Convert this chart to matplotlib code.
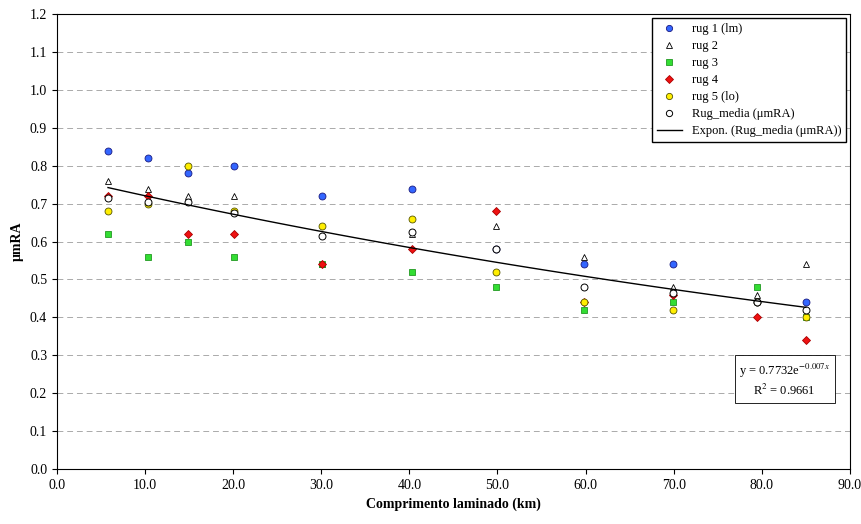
import numpy as np
import matplotlib
matplotlib.use('Agg')
import matplotlib.pyplot as plt

plt.rcParams['font.family'] = ['Liberation Serif', 'DejaVu Serif']
plt.rcParams['mathtext.fontset'] = 'stix'

km = [5.8, 10.3, 14.9, 20.1, 30.1, 40.3, 49.8, 59.8, 69.9, 79.4, 85.0]
rug1 = [0.84, 0.82, 0.78, 0.80, 0.72, 0.74, 0.58, 0.54, 0.54, 0.44, 0.44]
rug2 = [0.76, 0.74, 0.72, 0.72, 0.54, 0.62, 0.64, 0.56, 0.48, 0.46, 0.54]
rug3 = [0.62, 0.56, 0.60, 0.56, 0.54, 0.52, 0.48, 0.42, 0.44, 0.48, 0.40]
rug4 = [0.72, 0.72, 0.62, 0.62, 0.54, 0.58, 0.68, 0.44, 0.46, 0.40, 0.34]
rug5 = [0.68, 0.70, 0.80, 0.68, 0.64, 0.66, 0.52, 0.44, 0.42, 0.44, 0.40]
media = [0.715, 0.705, 0.705, 0.675, 0.615, 0.625, 0.58, 0.48, 0.465, 0.44, 0.42]
coef_a, coef_b = 0.7732, -0.007

fig, ax = plt.subplots(figsize=(8.62, 5.24), dpi=100)
fig.subplots_adjust(left=0.066, right=0.986, top=0.973, bottom=0.105)

ms = 5
ax.plot(km, rug1, 'o', mfc='#3366ff', mec='#1a1a80', mew=0.6, ms=ms, label='rug 1 (lm)')
ax.plot(km, rug2, '^', mfc='white', mec='black', mew=0.6, ms=ms, label='rug 2')
ax.plot(km, rug3, 's', mfc='#33dd33', mec='#229922', mew=0.6, ms=ms, label='rug 3')
ax.plot(km, rug4, 'D', mfc='#ee1111', mec='#aa0000', mew=0.6, ms=4, label='rug 4')
ax.plot(km, rug5, 'o', mfc='#ffee00', mec='#555500', mew=0.6, ms=ms, label='rug 5 (lo)')
ax.plot(km, media, 'o', mfc='white', mec='black', mew=0.7, ms=ms, label='Rug_media (\u03bcmRA)')
xt = np.linspace(km[0], km[-1], 100)
ax.plot(xt, coef_a * np.exp(coef_b * xt), 'k-', lw=1, label='Expon. (Rug_media (\u03bcmRA))')

ax.set_xlim(0, 90)
ax.set_ylim(0, 1.2)
ax.set_xticks(np.arange(0, 91, 10))
ax.set_xticklabels([f'{v:.1f}' for v in np.arange(0, 91, 10)])
ax.set_yticks(np.arange(0, 1.21, 0.1))
ax.set_yticklabels([f'{v:.1f}' for v in np.arange(0, 1.21, 0.1)])
ax.yaxis.grid(True, ls=(0, (6, 4)), color='#aaaaaa', lw=0.7)
ax.tick_params(labelsize=10)
ax.set_xlabel('Comprimento laminado (km)', fontweight='bold', fontsize=10)
ax.set_ylabel('\u03bcmRA', fontweight='bold', fontsize=10)

ax.legend(loc='upper right', fontsize=9, fancybox=False, edgecolor='black',
          framealpha=1, borderaxespad=0.3, handlelength=2, labelspacing=0.4,
          markerscale=0.9)
ax.text(82.6, 0.235, 'y = 0.7732e$^{-0.007x}$\nR$^2$ = 0.9661', fontsize=9,
        ha='center', va='center', linespacing=1.3,
        bbox=dict(boxstyle='square,pad=0.35', fc='white', ec='black', lw=0.6))

fig.savefig('out.png')
